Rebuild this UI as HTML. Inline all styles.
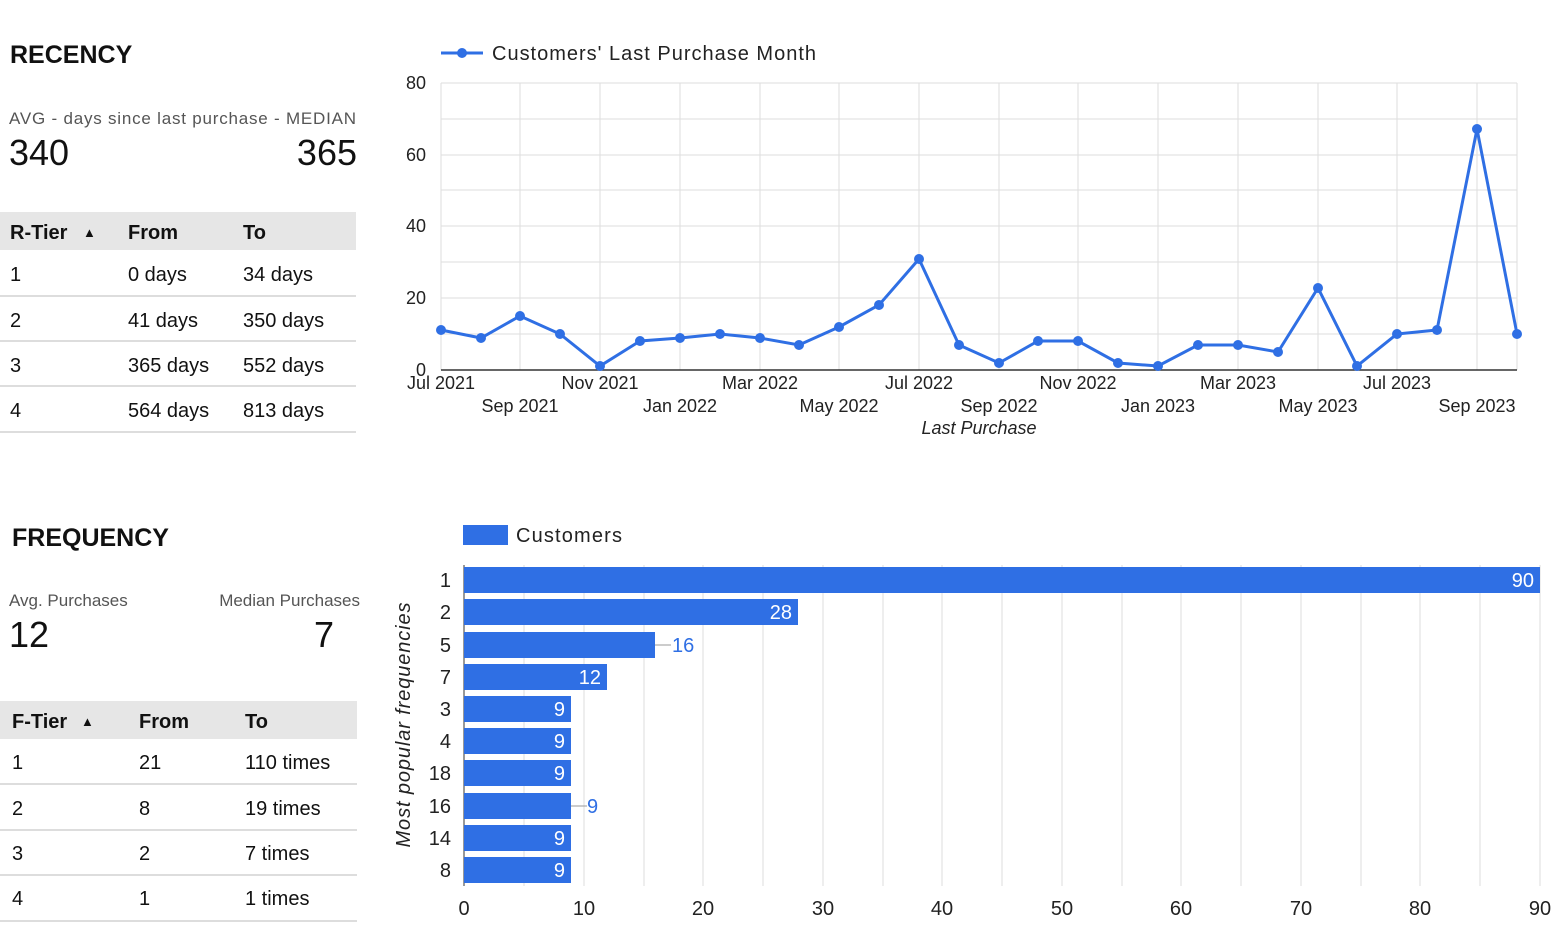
<!DOCTYPE html>
<html><head><meta charset="utf-8"><style>
body{margin:0;background:#fff;font-family:"Liberation Sans",sans-serif;}
svg{display:block}
</style></head><body>
<svg width="1568" height="952" xmlns="http://www.w3.org/2000/svg" font-family="Liberation Sans, sans-serif">
<!-- RECENCY panel -->
<text x="10" y="63" font-size="25" font-weight="bold" fill="#111">RECENCY</text>
<text x="9" y="124" font-size="17" fill="#555" textLength="347">AVG - days since last purchase - MEDIAN</text>
<text x="9" y="165" font-size="36" fill="#111">340</text>
<text x="357" y="165" font-size="36" fill="#111" text-anchor="end">365</text>
<rect x="0" y="212" width="356" height="38" fill="#e6e6e6"/>
<g font-size="20" fill="#111">
<text x="10" y="239" font-weight="bold">R-Tier</text><text x="83" y="237" font-size="13">▲</text>
<text x="128" y="239" font-weight="bold">From</text><text x="243" y="239" font-weight="bold">To</text>
<text x="10" y="281">1</text><text x="128" y="281">0 days</text><text x="243" y="281">34 days</text>
<text x="10" y="327">2</text><text x="128" y="327">41 days</text><text x="243" y="327">350 days</text>
<text x="10" y="372">3</text><text x="128" y="372">365 days</text><text x="243" y="372">552 days</text>
<text x="10" y="417">4</text><text x="128" y="417">564 days</text><text x="243" y="417">813 days</text>
</g>
<g stroke="#ddd" stroke-width="2"><line x1="0" y1="296" x2="356" y2="296"/><line x1="0" y1="341" x2="356" y2="341"/><line x1="0" y1="386" x2="356" y2="386"/><line x1="0" y1="432" x2="356" y2="432"/></g>

<!-- FREQUENCY panel -->
<text x="12" y="546" font-size="25" font-weight="bold" fill="#111">FREQUENCY</text>
<text x="9" y="606" font-size="17" fill="#555">Avg. Purchases</text>
<text x="360" y="606" font-size="17" fill="#555" text-anchor="end">Median Purchases</text>
<text x="9" y="647" font-size="36" fill="#111">12</text>
<text x="334" y="647" font-size="36" fill="#111" text-anchor="end">7</text>
<rect x="0" y="701" width="357" height="38" fill="#e6e6e6"/>
<g font-size="20" fill="#111">
<text x="12" y="728" font-weight="bold">F-Tier</text><text x="81" y="726" font-size="13">▲</text>
<text x="139" y="728" font-weight="bold">From</text><text x="245" y="728" font-weight="bold">To</text>
<text x="12" y="769">1</text><text x="139" y="769">21</text><text x="245" y="769">110 times</text>
<text x="12" y="815">2</text><text x="139" y="815">8</text><text x="245" y="815">19 times</text>
<text x="12" y="860">3</text><text x="139" y="860">2</text><text x="245" y="860">7 times</text>
<text x="12" y="905">4</text><text x="139" y="905">1</text><text x="245" y="905">1 times</text>
</g>
<g stroke="#ddd" stroke-width="2"><line x1="0" y1="784" x2="357" y2="784"/><line x1="0" y1="830" x2="357" y2="830"/><line x1="0" y1="875" x2="357" y2="875"/><line x1="0" y1="921" x2="357" y2="921"/></g>

<!-- Line chart -->
<line x1="441" y1="53" x2="483" y2="53" stroke="#2f6fe4" stroke-width="3"/><circle cx="462" cy="53" r="5" fill="#2f6fe4"/>
<text x="492" y="60" font-size="20" fill="#222" textLength="324">Customers' Last Purchase Month</text>
<g stroke="#ddd" stroke-width="1">
<line x1="441" y1="83" x2="1517" y2="83"/><line x1="441" y1="119" x2="1517" y2="119"/><line x1="441" y1="155" x2="1517" y2="155"/><line x1="441" y1="190" x2="1517" y2="190"/><line x1="441" y1="226" x2="1517" y2="226"/><line x1="441" y1="262" x2="1517" y2="262"/><line x1="441" y1="298" x2="1517" y2="298"/><line x1="441" y1="334" x2="1517" y2="334"/>
<line x1="441" y1="83" x2="441" y2="370"/><line x1="520" y1="83" x2="520" y2="370"/><line x1="600" y1="83" x2="600" y2="370"/><line x1="680" y1="83" x2="680" y2="370"/><line x1="760" y1="83" x2="760" y2="370"/><line x1="839" y1="83" x2="839" y2="370"/><line x1="919" y1="83" x2="919" y2="370"/><line x1="999" y1="83" x2="999" y2="370"/><line x1="1078" y1="83" x2="1078" y2="370"/><line x1="1158" y1="83" x2="1158" y2="370"/><line x1="1238" y1="83" x2="1238" y2="370"/><line x1="1318" y1="83" x2="1318" y2="370"/><line x1="1397" y1="83" x2="1397" y2="370"/><line x1="1477" y1="83" x2="1477" y2="370"/><line x1="1517" y1="83" x2="1517" y2="370"/>
</g>
<line x1="441" y1="370" x2="1517" y2="370" stroke="#333" stroke-width="1.5"/>
<g font-size="18" fill="#222" text-anchor="end">
<text x="426" y="89">80</text><text x="426" y="161">60</text><text x="426" y="232">40</text><text x="426" y="304">20</text><text x="426" y="376">0</text>
</g>
<g font-size="18" fill="#222" text-anchor="middle">
<text x="441" y="389">Jul 2021</text><text x="600" y="389">Nov 2021</text><text x="760" y="389">Mar 2022</text><text x="919" y="389">Jul 2022</text><text x="1078" y="389">Nov 2022</text><text x="1238" y="389">Mar 2023</text><text x="1397" y="389">Jul 2023</text>
<text x="520" y="412">Sep 2021</text><text x="680" y="412">Jan 2022</text><text x="839" y="412">May 2022</text><text x="999" y="412">Sep 2022</text><text x="1158" y="412">Jan 2023</text><text x="1318" y="412">May 2023</text><text x="1477" y="412">Sep 2023</text>
<text x="979" y="434" font-style="italic">Last Purchase</text>
</g>
<polyline fill="none" stroke="#2f6fe4" stroke-width="3" points="441,330 481,338 520,316 560,334 600,366 640,341 680,338 720,334 760,338 799,345 839,327 879,305 919,259 959,345 999,363 1038,341 1078,341 1118,363 1158,366 1198,345 1238,345 1278,352 1318,288 1357,366 1397,334 1437,330 1477,129 1517,334"/>
<g fill="#2f6fe4">
<circle cx="441" cy="330" r="5"/><circle cx="481" cy="338" r="5"/><circle cx="520" cy="316" r="5"/><circle cx="560" cy="334" r="5"/><circle cx="600" cy="366" r="5"/><circle cx="640" cy="341" r="5"/><circle cx="680" cy="338" r="5"/><circle cx="720" cy="334" r="5"/><circle cx="760" cy="338" r="5"/><circle cx="799" cy="345" r="5"/><circle cx="839" cy="327" r="5"/><circle cx="879" cy="305" r="5"/><circle cx="919" cy="259" r="5"/><circle cx="959" cy="345" r="5"/><circle cx="999" cy="363" r="5"/><circle cx="1038" cy="341" r="5"/><circle cx="1078" cy="341" r="5"/><circle cx="1118" cy="363" r="5"/><circle cx="1158" cy="366" r="5"/><circle cx="1198" cy="345" r="5"/><circle cx="1238" cy="345" r="5"/><circle cx="1278" cy="352" r="5"/><circle cx="1318" cy="288" r="5"/><circle cx="1357" cy="366" r="5"/><circle cx="1397" cy="334" r="5"/><circle cx="1437" cy="330" r="5"/><circle cx="1477" cy="129" r="5"/><circle cx="1517" cy="334" r="5"/>
</g>

<!-- Bar chart -->
<rect x="463" y="525" width="45" height="20" fill="#2f6fe4"/>
<text x="516" y="542" font-size="20" fill="#222" textLength="106">Customers</text>
<g stroke="#ddd" stroke-width="1">
<line x1="524" y1="565" x2="524" y2="886"/><line x1="584" y1="565" x2="584" y2="886"/><line x1="644" y1="565" x2="644" y2="886"/><line x1="703" y1="565" x2="703" y2="886"/><line x1="763" y1="565" x2="763" y2="886"/><line x1="823" y1="565" x2="823" y2="886"/><line x1="883" y1="565" x2="883" y2="886"/><line x1="942" y1="565" x2="942" y2="886"/><line x1="1002" y1="565" x2="1002" y2="886"/><line x1="1062" y1="565" x2="1062" y2="886"/><line x1="1122" y1="565" x2="1122" y2="886"/><line x1="1181" y1="565" x2="1181" y2="886"/><line x1="1241" y1="565" x2="1241" y2="886"/><line x1="1301" y1="565" x2="1301" y2="886"/><line x1="1361" y1="565" x2="1361" y2="886"/><line x1="1420" y1="565" x2="1420" y2="886"/><line x1="1480" y1="565" x2="1480" y2="886"/><line x1="1540" y1="565" x2="1540" y2="886"/>
</g>
<line x1="464" y1="565" x2="464" y2="886" stroke="#333" stroke-width="1"/>
<g fill="#2f6fe4">
<rect x="464" y="567" width="1076" height="26"/><rect x="464" y="599" width="334" height="26"/><rect x="464" y="632" width="191" height="26"/><rect x="464" y="664" width="143" height="26"/><rect x="464" y="696" width="107" height="26"/><rect x="464" y="728" width="107" height="26"/><rect x="464" y="760" width="107" height="26"/><rect x="464" y="793" width="107" height="26"/><rect x="464" y="825" width="107" height="26"/><rect x="464" y="857" width="107" height="26"/>
</g>
<g font-size="20" fill="#fff" text-anchor="end">
<text x="1534" y="587">90</text><text x="792" y="619">28</text><text x="601" y="684">12</text><text x="565" y="716">9</text><text x="565" y="748">9</text><text x="565" y="780">9</text><text x="565" y="845">9</text><text x="565" y="877">9</text>
</g>
<line x1="655" y1="645" x2="671" y2="645" stroke="#999"/><text x="672" y="652" font-size="20" fill="#2f6fe4">16</text>
<line x1="571" y1="806" x2="587" y2="806" stroke="#999"/><text x="587" y="813" font-size="20" fill="#2f6fe4">9</text>
<g font-size="20" fill="#222" text-anchor="end">
<text x="451" y="587">1</text><text x="451" y="619">2</text><text x="451" y="652">5</text><text x="451" y="684">7</text><text x="451" y="716">3</text><text x="451" y="748">4</text><text x="451" y="780">18</text><text x="451" y="813">16</text><text x="451" y="845">14</text><text x="451" y="877">8</text>
</g>
<text transform="translate(410,725) rotate(-90)" font-size="20" font-style="italic" fill="#222" text-anchor="middle" textLength="245">Most popular frequencies</text>
<g font-size="20" fill="#222" text-anchor="middle">
<text x="464" y="915">0</text><text x="584" y="915">10</text><text x="703" y="915">20</text><text x="823" y="915">30</text><text x="942" y="915">40</text><text x="1062" y="915">50</text><text x="1181" y="915">60</text><text x="1301" y="915">70</text><text x="1420" y="915">80</text><text x="1540" y="915">90</text>
</g>
</svg>
</body></html>
